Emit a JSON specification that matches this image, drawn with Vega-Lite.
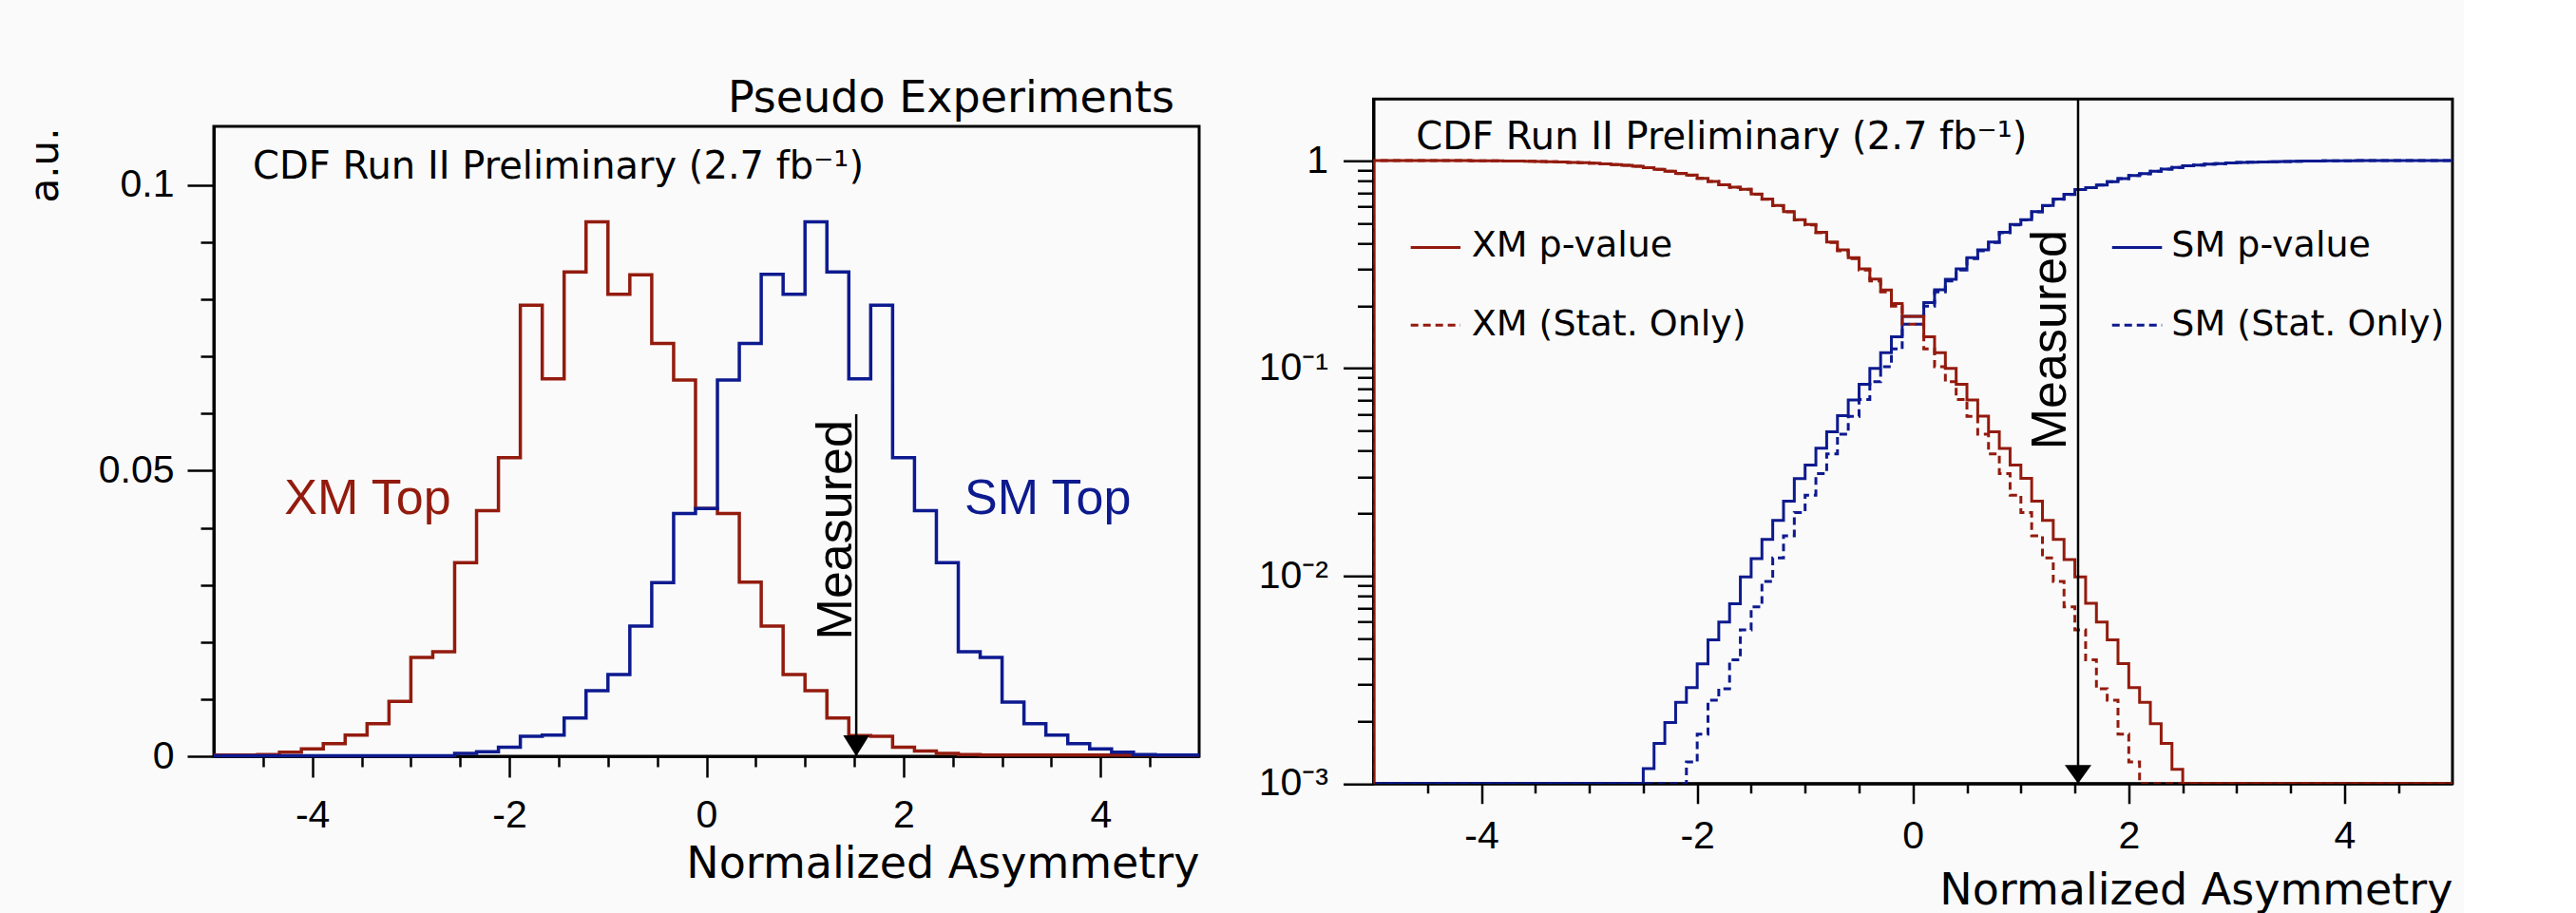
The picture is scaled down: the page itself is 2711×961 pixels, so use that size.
{
"$schema": "https://vega.github.io/schema/vega-lite/v6.json",
"background": "#fafafa",
"padding": {"left": 24, "top": 79, "right": 10, "bottom": 0},
"config": {
  "view": {"stroke": "black", "strokeWidth": 3},
  "axis": {"grid": false, "domainColor": "black", "domainWidth": 3, "tickColor": "black", "tickWidth": 2.5, "labelColor": "black", "titleColor": "black", "labelFont": "Liberation Sans", "labelFontSize": 41, "titleFont": "DejaVu Sans", "titleFontSize": 46, "titleFontWeight": "normal", "labelOverlap": false, "labelFlush": false},
  "text": {"font": "DejaVu Sans", "color": "black"},
  "title": {"font": "DejaVu Sans", "fontWeight": "normal", "color": "black"}
},
"datasets": {
"hist": [
{"x":-5,"v":0.0002,"s":"XM"},{"x":-4.7778,"v":0.0002,"s":"XM"},{"x":-4.5556,"v":0.0003,"s":"XM"},{"x":-4.3333,"v":0.0007,"s":"XM"},{"x":-4.1111,"v":0.0013,"s":"XM"},{"x":-3.8889,"v":0.0022,"s":"XM"},{"x":-3.6667,"v":0.0037,"s":"XM"},{"x":-3.4444,"v":0.0057,"s":"XM"},{"x":-3.2222,"v":0.0096,"s":"XM"},{"x":-3,"v":0.0173,"s":"XM"},{"x":-2.7778,"v":0.0183,"s":"XM"},{"x":-2.5556,"v":0.0339,"s":"XM"},{"x":-2.3333,"v":0.043,"s":"XM"},{"x":-2.1111,"v":0.0523,"s":"XM"},{"x":-1.8889,"v":0.079,"s":"XM"},{"x":-1.6667,"v":0.0661,"s":"XM"},{"x":-1.4444,"v":0.0848,"s":"XM"},{"x":-1.2222,"v":0.0936,"s":"XM"},{"x":-1,"v":0.0809,"s":"XM"},{"x":-0.7778,"v":0.0843,"s":"XM"},{"x":-0.5556,"v":0.0723,"s":"XM"},{"x":-0.3333,"v":0.0659,"s":"XM"},{"x":-0.1111,"v":0.0434,"s":"XM"},{"x":0.1111,"v":0.0425,"s":"XM"},{"x":0.3333,"v":0.0305,"s":"XM"},{"x":0.5556,"v":0.0228,"s":"XM"},{"x":0.7778,"v":0.0143,"s":"XM"},{"x":1,"v":0.0115,"s":"XM"},{"x":1.2222,"v":0.0067,"s":"XM"},{"x":1.4444,"v":0.0036,"s":"XM"},{"x":1.6667,"v":0.0035,"s":"XM"},{"x":1.8889,"v":0.0016,"s":"XM"},{"x":2.1111,"v":0.0009,"s":"XM"},{"x":2.3333,"v":0.0005,"s":"XM"},{"x":2.5556,"v":0.0003,"s":"XM"},{"x":2.7778,"v":0.0002,"s":"XM"},{"x":3,"v":0.0002,"s":"XM"},{"x":3.2222,"v":0.0002,"s":"XM"},{"x":3.4444,"v":0.0002,"s":"XM"},{"x":3.6667,"v":0.0002,"s":"XM"},{"x":3.8889,"v":0.0002,"s":"XM"},{"x":4.1111,"v":0.0002,"s":"XM"},{"x":4.3333,"v":0.0002,"s":"XM"},{"x":4.5556,"v":0.0002,"s":"XM"},{"x":4.7778,"v":0.0002,"s":"XM"},{"x":5,"v":0.0002,"s":"XM"},
{"x":-5,"v":0.0001,"s":"SM"},{"x":-4.7778,"v":0.0001,"s":"SM"},{"x":-4.5556,"v":0.0001,"s":"SM"},{"x":-4.3333,"v":0.0001,"s":"SM"},{"x":-4.1111,"v":0.0001,"s":"SM"},{"x":-3.8889,"v":0.0001,"s":"SM"},{"x":-3.6667,"v":0.0001,"s":"SM"},{"x":-3.4444,"v":0.0001,"s":"SM"},{"x":-3.2222,"v":0.0001,"s":"SM"},{"x":-3,"v":0.0001,"s":"SM"},{"x":-2.7778,"v":0.0001,"s":"SM"},{"x":-2.5556,"v":0.0005,"s":"SM"},{"x":-2.3333,"v":0.0008,"s":"SM"},{"x":-2.1111,"v":0.0016,"s":"SM"},{"x":-1.8889,"v":0.0035,"s":"SM"},{"x":-1.6667,"v":0.0037,"s":"SM"},{"x":-1.4444,"v":0.0067,"s":"SM"},{"x":-1.2222,"v":0.0115,"s":"SM"},{"x":-1,"v":0.0143,"s":"SM"},{"x":-0.7778,"v":0.0228,"s":"SM"},{"x":-0.5556,"v":0.0304,"s":"SM"},{"x":-0.3333,"v":0.0425,"s":"SM"},{"x":-0.1111,"v":0.0434,"s":"SM"},{"x":0.1111,"v":0.0659,"s":"SM"},{"x":0.3333,"v":0.0723,"s":"SM"},{"x":0.5556,"v":0.0844,"s":"SM"},{"x":0.7778,"v":0.0809,"s":"SM"},{"x":1,"v":0.0936,"s":"SM"},{"x":1.2222,"v":0.0848,"s":"SM"},{"x":1.4444,"v":0.0661,"s":"SM"},{"x":1.6667,"v":0.079,"s":"SM"},{"x":1.8889,"v":0.0523,"s":"SM"},{"x":2.1111,"v":0.043,"s":"SM"},{"x":2.3333,"v":0.0339,"s":"SM"},{"x":2.5556,"v":0.0183,"s":"SM"},{"x":2.7778,"v":0.0173,"s":"SM"},{"x":3,"v":0.0095,"s":"SM"},{"x":3.2222,"v":0.0057,"s":"SM"},{"x":3.4444,"v":0.0037,"s":"SM"},{"x":3.6667,"v":0.0022,"s":"SM"},{"x":3.8889,"v":0.0013,"s":"SM"},{"x":4.1111,"v":0.0007,"s":"SM"},{"x":4.3333,"v":0.0003,"s":"SM"},{"x":4.5556,"v":0.0002,"s":"SM"},{"x":4.7778,"v":0.0002,"s":"SM"},{"x":5,"v":0.0002,"s":"SM"}
],
"pv": [
{"x":-5,"v":0.001,"s":"SMp"},{"x":-4.9,"v":0.001,"s":"SMp"},{"x":-4.8,"v":0.001,"s":"SMp"},{"x":-4.7,"v":0.001,"s":"SMp"},{"x":-4.6,"v":0.001,"s":"SMp"},{"x":-4.5,"v":0.001,"s":"SMp"},{"x":-4.4,"v":0.001,"s":"SMp"},{"x":-4.3,"v":0.001,"s":"SMp"},{"x":-4.2,"v":0.001,"s":"SMp"},{"x":-4.1,"v":0.001,"s":"SMp"},{"x":-4,"v":0.001,"s":"SMp"},{"x":-3.9,"v":0.001,"s":"SMp"},{"x":-3.8,"v":0.001,"s":"SMp"},{"x":-3.7,"v":0.001,"s":"SMp"},{"x":-3.6,"v":0.001,"s":"SMp"},{"x":-3.5,"v":0.001,"s":"SMp"},{"x":-3.4,"v":0.001,"s":"SMp"},{"x":-3.3,"v":0.001,"s":"SMp"},{"x":-3.2,"v":0.001,"s":"SMp"},{"x":-3.1,"v":0.001,"s":"SMp"},{"x":-3,"v":0.001,"s":"SMp"},{"x":-2.9,"v":0.001,"s":"SMp"},{"x":-2.8,"v":0.001,"s":"SMp"},{"x":-2.7,"v":0.001,"s":"SMp"},{"x":-2.6,"v":0.001,"s":"SMp"},
{"x":-2.5,"v":0.00118,"s":"SMp"},{"x":-2.4,"v":0.00156,"s":"SMp"},{"x":-2.3,"v":0.00197,"s":"SMp"},{"x":-2.2,"v":0.00246,"s":"SMp"},{"x":-2.1,"v":0.0029,"s":"SMp"},{"x":-2,"v":0.00377,"s":"SMp"},{"x":-1.9,"v":0.00492,"s":"SMp"},{"x":-1.8,"v":0.006,"s":"SMp"},{"x":-1.7,"v":0.00734,"s":"SMp"},{"x":-1.6,"v":0.0099,"s":"SMp"},{"x":-1.5,"v":0.0121,"s":"SMp"},{"x":-1.4,"v":0.015,"s":"SMp"},{"x":-1.3,"v":0.0185,"s":"SMp"},{"x":-1.2,"v":0.0229,"s":"SMp"},{"x":-1.1,"v":0.0294,"s":"SMp"},{"x":-1,"v":0.0342,"s":"SMp"},{"x":-0.9,"v":0.0412,"s":"SMp"},{"x":-0.8,"v":0.0494,"s":"SMp"},{"x":-0.7,"v":0.0592,"s":"SMp"},{"x":-0.6,"v":0.0703,"s":"SMp"},{"x":-0.5,"v":0.0838,"s":"SMp"},{"x":-0.4,"v":0.0998,"s":"SMp"},{"x":-0.3,"v":0.119,"s":"SMp"},{"x":-0.2,"v":0.1417,"s":"SMp"},{"x":-0.1,"v":0.178,"s":"SMp"},
{"x":0,"v":0.178,"s":"SMp"},{"x":0.1,"v":0.207,"s":"SMp"},{"x":0.2,"v":0.239,"s":"SMp"},{"x":0.3,"v":0.268,"s":"SMp"},{"x":0.4,"v":0.301,"s":"SMp"},{"x":0.5,"v":0.341,"s":"SMp"},{"x":0.6,"v":0.372,"s":"SMp"},{"x":0.7,"v":0.406,"s":"SMp"},{"x":0.8,"v":0.452,"s":"SMp"},{"x":0.9,"v":0.493,"s":"SMp"},{"x":1,"v":0.52,"s":"SMp"},{"x":1.1,"v":0.568,"s":"SMp"},{"x":1.2,"v":0.609,"s":"SMp"},{"x":1.3,"v":0.653,"s":"SMp"},{"x":1.4,"v":0.689,"s":"SMp"},{"x":1.5,"v":0.726,"s":"SMp"},{"x":1.6,"v":0.742,"s":"SMp"},{"x":1.7,"v":0.764,"s":"SMp"},{"x":1.8,"v":0.792,"s":"SMp"},{"x":1.9,"v":0.82,"s":"SMp"},{"x":2,"v":0.849,"s":"SMp"},{"x":2.1,"v":0.865,"s":"SMp"},{"x":2.2,"v":0.889,"s":"SMp"},{"x":2.3,"v":0.911,"s":"SMp"},{"x":2.4,"v":0.927,"s":"SMp"},
{"x":2.5,"v":0.944,"s":"SMp"},{"x":2.6,"v":0.953,"s":"SMp"},{"x":2.7,"v":0.961,"s":"SMp"},{"x":2.8,"v":0.968,"s":"SMp"},{"x":2.9,"v":0.975,"s":"SMp"},{"x":3,"v":0.979,"s":"SMp"},{"x":3.1,"v":0.983,"s":"SMp"},{"x":3.2,"v":0.986,"s":"SMp"},{"x":3.3,"v":0.989,"s":"SMp"},{"x":3.4,"v":0.991,"s":"SMp"},{"x":3.5,"v":0.993,"s":"SMp"},{"x":3.6,"v":0.995,"s":"SMp"},{"x":3.7,"v":0.996,"s":"SMp"},{"x":3.8,"v":0.997,"s":"SMp"},{"x":3.9,"v":0.998,"s":"SMp"},{"x":4,"v":0.999,"s":"SMp"},{"x":4.1,"v":1,"s":"SMp"},{"x":4.2,"v":1,"s":"SMp"},{"x":4.3,"v":1,"s":"SMp"},{"x":4.4,"v":1,"s":"SMp"},{"x":4.5,"v":1,"s":"SMp"},{"x":4.6,"v":1,"s":"SMp"},{"x":4.7,"v":1,"s":"SMp"},{"x":4.8,"v":1,"s":"SMp"},{"x":4.9,"v":1,"s":"SMp"},{"x":5,"v":1,"s":"SMp"},

{"x":-5,"v":0.001,"s":"SMs"},{"x":-4.9,"v":0.001,"s":"SMs"},{"x":-4.8,"v":0.001,"s":"SMs"},{"x":-4.7,"v":0.001,"s":"SMs"},{"x":-4.6,"v":0.001,"s":"SMs"},{"x":-4.5,"v":0.001,"s":"SMs"},{"x":-4.4,"v":0.001,"s":"SMs"},{"x":-4.3,"v":0.001,"s":"SMs"},{"x":-4.2,"v":0.001,"s":"SMs"},{"x":-4.1,"v":0.001,"s":"SMs"},{"x":-4,"v":0.001,"s":"SMs"},{"x":-3.9,"v":0.001,"s":"SMs"},{"x":-3.8,"v":0.001,"s":"SMs"},{"x":-3.7,"v":0.001,"s":"SMs"},{"x":-3.6,"v":0.001,"s":"SMs"},{"x":-3.5,"v":0.001,"s":"SMs"},{"x":-3.4,"v":0.001,"s":"SMs"},{"x":-3.3,"v":0.001,"s":"SMs"},{"x":-3.2,"v":0.001,"s":"SMs"},{"x":-3.1,"v":0.001,"s":"SMs"},{"x":-3,"v":0.001,"s":"SMs"},{"x":-2.9,"v":0.001,"s":"SMs"},{"x":-2.8,"v":0.001,"s":"SMs"},{"x":-2.7,"v":0.001,"s":"SMs"},{"x":-2.6,"v":0.001,"s":"SMs"},{"x":-2.5,"v":0.001,"s":"SMs"},{"x":-2.4,"v":0.001,"s":"SMs"},{"x":-2.3,"v":0.001,"s":"SMs"},{"x":-2.2,"v":0.001,"s":"SMs"},
{"x":-2.1,"v":0.00127,"s":"SMs"},{"x":-2,"v":0.00173,"s":"SMs"},{"x":-1.9,"v":0.00252,"s":"SMs"},{"x":-1.8,"v":0.00286,"s":"SMs"},{"x":-1.7,"v":0.00394,"s":"SMs"},{"x":-1.6,"v":0.0055,"s":"SMs"},{"x":-1.5,"v":0.0071,"s":"SMs"},{"x":-1.4,"v":0.0094,"s":"SMs"},{"x":-1.3,"v":0.0122,"s":"SMs"},{"x":-1.2,"v":0.0156,"s":"SMs"},{"x":-1.1,"v":0.0202,"s":"SMs"},{"x":-1,"v":0.0245,"s":"SMs"},{"x":-0.9,"v":0.0311,"s":"SMs"},{"x":-0.8,"v":0.0387,"s":"SMs"},{"x":-0.7,"v":0.0481,"s":"SMs"},{"x":-0.6,"v":0.0587,"s":"SMs"},{"x":-0.5,"v":0.0708,"s":"SMs"},{"x":-0.4,"v":0.0861,"s":"SMs"},{"x":-0.3,"v":0.1017,"s":"SMs"},{"x":-0.2,"v":0.124,"s":"SMs"},{"x":-0.1,"v":0.163,"s":"SMs"},
{"x":0,"v":0.163,"s":"SMs"},{"x":0.1,"v":0.199,"s":"SMs"},{"x":0.2,"v":0.233,"s":"SMs"},{"x":0.3,"v":0.263,"s":"SMs"},{"x":0.4,"v":0.297,"s":"SMs"},{"x":0.5,"v":0.337,"s":"SMs"},{"x":0.6,"v":0.368,"s":"SMs"},{"x":0.7,"v":0.403,"s":"SMs"},{"x":0.8,"v":0.449,"s":"SMs"},{"x":0.9,"v":0.49,"s":"SMs"},{"x":1,"v":0.518,"s":"SMs"},{"x":1.1,"v":0.566,"s":"SMs"},{"x":1.2,"v":0.607,"s":"SMs"},{"x":1.3,"v":0.651,"s":"SMs"},{"x":1.4,"v":0.687,"s":"SMs"},{"x":1.5,"v":0.725,"s":"SMs"},{"x":1.6,"v":0.741,"s":"SMs"},{"x":1.7,"v":0.763,"s":"SMs"},{"x":1.8,"v":0.791,"s":"SMs"},{"x":1.9,"v":0.819,"s":"SMs"},{"x":2,"v":0.848,"s":"SMs"},{"x":2.1,"v":0.864,"s":"SMs"},{"x":2.2,"v":0.888,"s":"SMs"},{"x":2.3,"v":0.91,"s":"SMs"},{"x":2.4,"v":0.927,"s":"SMs"},{"x":2.5,"v":0.944,"s":"SMs"},
{"x":2.6,"v":0.953,"s":"SMs"},{"x":2.7,"v":0.961,"s":"SMs"},{"x":2.8,"v":0.968,"s":"SMs"},{"x":2.9,"v":0.975,"s":"SMs"},{"x":3,"v":0.979,"s":"SMs"},{"x":3.1,"v":0.983,"s":"SMs"},{"x":3.2,"v":0.986,"s":"SMs"},{"x":3.3,"v":0.989,"s":"SMs"},{"x":3.4,"v":0.991,"s":"SMs"},{"x":3.5,"v":0.993,"s":"SMs"},{"x":3.6,"v":0.995,"s":"SMs"},{"x":3.7,"v":0.996,"s":"SMs"},{"x":3.8,"v":0.997,"s":"SMs"},{"x":3.9,"v":0.998,"s":"SMs"},{"x":4,"v":0.999,"s":"SMs"},{"x":4.1,"v":1,"s":"SMs"},{"x":4.2,"v":1,"s":"SMs"},{"x":4.3,"v":1,"s":"SMs"},{"x":4.4,"v":1,"s":"SMs"},{"x":4.5,"v":1,"s":"SMs"},{"x":4.6,"v":1,"s":"SMs"},{"x":4.7,"v":1,"s":"SMs"},{"x":4.8,"v":1,"s":"SMs"},{"x":4.9,"v":1,"s":"SMs"},{"x":5,"v":1,"s":"SMs"},

{"x":-5,"v":0.001,"s":"XMp"},{"x":-5,"v":1,"s":"XMp"},{"x":-4.9,"v":1,"s":"XMp"},{"x":-4.8,"v":1,"s":"XMp"},{"x":-4.7,"v":1,"s":"XMp"},{"x":-4.6,"v":1,"s":"XMp"},{"x":-4.5,"v":1,"s":"XMp"},{"x":-4.4,"v":1,"s":"XMp"},{"x":-4.3,"v":1,"s":"XMp"},{"x":-4.2,"v":1,"s":"XMp"},{"x":-4.1,"v":0.999,"s":"XMp"},{"x":-4,"v":0.998,"s":"XMp"},{"x":-3.9,"v":0.997,"s":"XMp"},{"x":-3.8,"v":0.996,"s":"XMp"},{"x":-3.7,"v":0.995,"s":"XMp"},{"x":-3.6,"v":0.993,"s":"XMp"},{"x":-3.5,"v":0.991,"s":"XMp"},{"x":-3.4,"v":0.989,"s":"XMp"},{"x":-3.3,"v":0.985,"s":"XMp"},{"x":-3.2,"v":0.981,"s":"XMp"},{"x":-3.1,"v":0.977,"s":"XMp"},{"x":-3,"v":0.972,"s":"XMp"},{"x":-2.9,"v":0.965,"s":"XMp"},{"x":-2.8,"v":0.958,"s":"XMp"},{"x":-2.7,"v":0.949,"s":"XMp"},{"x":-2.6,"v":0.94,"s":"XMp"},{"x":-2.5,"v":0.925,"s":"XMp"},{"x":-2.4,"v":0.909,"s":"XMp"},{"x":-2.3,"v":0.889,"s":"XMp"},{"x":-2.2,"v":0.868,"s":"XMp"},{"x":-2.1,"v":0.852,"s":"XMp"},{"x":-2,"v":0.822,"s":"XMp"},{"x":-1.9,"v":0.794,"s":"XMp"},{"x":-1.8,"v":0.766,"s":"XMp"},{"x":-1.7,"v":0.745,"s":"XMp"},{"x":-1.6,"v":0.728,"s":"XMp"},{"x":-1.5,"v":0.69,"s":"XMp"},{"x":-1.4,"v":0.653,"s":"XMp"},{"x":-1.3,"v":0.609,"s":"XMp"},{"x":-1.2,"v":0.568,"s":"XMp"},{"x":-1.1,"v":0.52,"s":"XMp"},{"x":-1,"v":0.493,"s":"XMp"},{"x":-0.9,"v":0.452,"s":"XMp"},{"x":-0.8,"v":0.406,"s":"XMp"},{"x":-0.7,"v":0.372,"s":"XMp"},{"x":-0.6,"v":0.341,"s":"XMp"},{"x":-0.5,"v":0.301,"s":"XMp"},{"x":-0.4,"v":0.269,"s":"XMp"},{"x":-0.3,"v":0.238,"s":"XMp"},{"x":-0.2,"v":0.205,"s":"XMp"},{"x":-0.1,"v":0.178,"s":"XMp"},
{"x":0,"v":0.178,"s":"XMp"},{"x":0.1,"v":0.1417,"s":"XMp"},{"x":0.2,"v":0.119,"s":"XMp"},{"x":0.3,"v":0.0998,"s":"XMp"},{"x":0.4,"v":0.0838,"s":"XMp"},{"x":0.5,"v":0.0703,"s":"XMp"},{"x":0.6,"v":0.0589,"s":"XMp"},{"x":0.7,"v":0.0494,"s":"XMp"},{"x":0.8,"v":0.0411,"s":"XMp"},{"x":0.9,"v":0.0342,"s":"XMp"},{"x":1,"v":0.0295,"s":"XMp"},{"x":1.1,"v":0.0229,"s":"XMp"},{"x":1.2,"v":0.0185,"s":"XMp"},{"x":1.3,"v":0.015,"s":"XMp"},{"x":1.4,"v":0.012,"s":"XMp"},{"x":1.5,"v":0.0099,"s":"XMp"},{"x":1.6,"v":0.00738,"s":"XMp"},{"x":1.7,"v":0.006,"s":"XMp"},{"x":1.8,"v":0.00492,"s":"XMp"},{"x":1.9,"v":0.00378,"s":"XMp"},{"x":2,"v":0.0029,"s":"XMp"},{"x":2.1,"v":0.00246,"s":"XMp"},{"x":2.2,"v":0.00194,"s":"XMp"},{"x":2.3,"v":0.00156,"s":"XMp"},{"x":2.4,"v":0.00117,"s":"XMp"},
{"x":2.5,"v":0.001,"s":"XMp"},{"x":2.6,"v":0.001,"s":"XMp"},{"x":2.7,"v":0.001,"s":"XMp"},{"x":2.8,"v":0.001,"s":"XMp"},{"x":2.9,"v":0.001,"s":"XMp"},{"x":3,"v":0.001,"s":"XMp"},{"x":3.1,"v":0.001,"s":"XMp"},{"x":3.2,"v":0.001,"s":"XMp"},{"x":3.3,"v":0.001,"s":"XMp"},{"x":3.4,"v":0.001,"s":"XMp"},{"x":3.5,"v":0.001,"s":"XMp"},{"x":3.6,"v":0.001,"s":"XMp"},{"x":3.7,"v":0.001,"s":"XMp"},{"x":3.8,"v":0.001,"s":"XMp"},{"x":3.9,"v":0.001,"s":"XMp"},{"x":4,"v":0.001,"s":"XMp"},{"x":4.1,"v":0.001,"s":"XMp"},{"x":4.2,"v":0.001,"s":"XMp"},{"x":4.3,"v":0.001,"s":"XMp"},{"x":4.4,"v":0.001,"s":"XMp"},{"x":4.5,"v":0.001,"s":"XMp"},{"x":4.6,"v":0.001,"s":"XMp"},{"x":4.7,"v":0.001,"s":"XMp"},{"x":4.8,"v":0.001,"s":"XMp"},{"x":4.9,"v":0.001,"s":"XMp"},{"x":5,"v":0.001,"s":"XMp"},

{"x":-5,"v":0.001,"s":"XMs"},{"x":-5,"v":1,"s":"XMs"},{"x":-4.9,"v":1,"s":"XMs"},{"x":-4.8,"v":1,"s":"XMs"},{"x":-4.7,"v":1,"s":"XMs"},{"x":-4.6,"v":1,"s":"XMs"},{"x":-4.5,"v":1,"s":"XMs"},{"x":-4.4,"v":1,"s":"XMs"},{"x":-4.3,"v":1,"s":"XMs"},{"x":-4.2,"v":1,"s":"XMs"},{"x":-4.1,"v":0.999,"s":"XMs"},{"x":-4,"v":0.998,"s":"XMs"},{"x":-3.9,"v":0.997,"s":"XMs"},{"x":-3.8,"v":0.996,"s":"XMs"},{"x":-3.7,"v":0.995,"s":"XMs"},{"x":-3.6,"v":0.993,"s":"XMs"},{"x":-3.5,"v":0.991,"s":"XMs"},{"x":-3.4,"v":0.989,"s":"XMs"},{"x":-3.3,"v":0.985,"s":"XMs"},{"x":-3.2,"v":0.981,"s":"XMs"},{"x":-3.1,"v":0.977,"s":"XMs"},{"x":-3,"v":0.972,"s":"XMs"},{"x":-2.9,"v":0.965,"s":"XMs"},{"x":-2.8,"v":0.958,"s":"XMs"},{"x":-2.7,"v":0.949,"s":"XMs"},{"x":-2.6,"v":0.94,"s":"XMs"},{"x":-2.5,"v":0.925,"s":"XMs"},{"x":-2.4,"v":0.908,"s":"XMs"},{"x":-2.3,"v":0.888,"s":"XMs"},{"x":-2.2,"v":0.867,"s":"XMs"},{"x":-2.1,"v":0.851,"s":"XMs"},{"x":-2,"v":0.821,"s":"XMs"},{"x":-1.9,"v":0.793,"s":"XMs"},{"x":-1.8,"v":0.765,"s":"XMs"},{"x":-1.7,"v":0.744,"s":"XMs"},{"x":-1.6,"v":0.727,"s":"XMs"},{"x":-1.5,"v":0.688,"s":"XMs"},{"x":-1.4,"v":0.651,"s":"XMs"},{"x":-1.3,"v":0.607,"s":"XMs"},{"x":-1.2,"v":0.566,"s":"XMs"},{"x":-1.1,"v":0.518,"s":"XMs"},{"x":-1,"v":0.49,"s":"XMs"},{"x":-0.9,"v":0.449,"s":"XMs"},{"x":-0.8,"v":0.403,"s":"XMs"},{"x":-0.7,"v":0.368,"s":"XMs"},{"x":-0.6,"v":0.337,"s":"XMs"},{"x":-0.5,"v":0.297,"s":"XMs"},{"x":-0.4,"v":0.263,"s":"XMs"},{"x":-0.3,"v":0.233,"s":"XMs"},{"x":-0.2,"v":0.199,"s":"XMs"},{"x":-0.1,"v":0.163,"s":"XMs"},
{"x":0,"v":0.163,"s":"XMs"},{"x":0.1,"v":0.124,"s":"XMs"},{"x":0.2,"v":0.1017,"s":"XMs"},{"x":0.3,"v":0.0861,"s":"XMs"},{"x":0.4,"v":0.0708,"s":"XMs"},{"x":0.5,"v":0.0587,"s":"XMs"},{"x":0.6,"v":0.0481,"s":"XMs"},{"x":0.7,"v":0.0387,"s":"XMs"},{"x":0.8,"v":0.0311,"s":"XMs"},{"x":0.9,"v":0.0245,"s":"XMs"},{"x":1,"v":0.0202,"s":"XMs"},{"x":1.1,"v":0.0156,"s":"XMs"},{"x":1.2,"v":0.0122,"s":"XMs"},{"x":1.3,"v":0.0094,"s":"XMs"},{"x":1.4,"v":0.0071,"s":"XMs"},{"x":1.5,"v":0.0055,"s":"XMs"},{"x":1.6,"v":0.00394,"s":"XMs"},{"x":1.7,"v":0.00286,"s":"XMs"},{"x":1.8,"v":0.00252,"s":"XMs"},{"x":1.9,"v":0.00173,"s":"XMs"},{"x":2,"v":0.00127,"s":"XMs"},
{"x":2.1,"v":0.001,"s":"XMs"},{"x":2.2,"v":0.001,"s":"XMs"},{"x":2.3,"v":0.001,"s":"XMs"},{"x":2.4,"v":0.001,"s":"XMs"},{"x":2.5,"v":0.001,"s":"XMs"},{"x":2.6,"v":0.001,"s":"XMs"},{"x":2.7,"v":0.001,"s":"XMs"},{"x":2.8,"v":0.001,"s":"XMs"},{"x":2.9,"v":0.001,"s":"XMs"},{"x":3,"v":0.001,"s":"XMs"},{"x":3.1,"v":0.001,"s":"XMs"},{"x":3.2,"v":0.001,"s":"XMs"},{"x":3.3,"v":0.001,"s":"XMs"},{"x":3.4,"v":0.001,"s":"XMs"},{"x":3.5,"v":0.001,"s":"XMs"},{"x":3.6,"v":0.001,"s":"XMs"},{"x":3.7,"v":0.001,"s":"XMs"},{"x":3.8,"v":0.001,"s":"XMs"},{"x":3.9,"v":0.001,"s":"XMs"},{"x":4,"v":0.001,"s":"XMs"},{"x":4.1,"v":0.001,"s":"XMs"},{"x":4.2,"v":0.001,"s":"XMs"},{"x":4.3,"v":0.001,"s":"XMs"},{"x":4.4,"v":0.001,"s":"XMs"},{"x":4.5,"v":0.001,"s":"XMs"},{"x":4.6,"v":0.001,"s":"XMs"},{"x":4.7,"v":0.001,"s":"XMs"},{"x":4.8,"v":0.001,"s":"XMs"},{"x":4.9,"v":0.001,"s":"XMs"},{"x":5,"v":0.001,"s":"XMs"}
]
},
"spacing": 183.5,
"bounds": "flush",
"center": true,
"resolve": {"scale": {"color": "independent", "strokeDash": "independent"}},
"hconcat": [
{
  "width": 1037, "height": 663,
  "title": {"text": "Pseudo Experiments", "anchor": "end", "fontSize": 46, "dx": -33, "offset": -31, "baseline": "alphabetic"},
  "layer": [
    {
      "data": {"name": "hist"},
      "mark": {"type": "line", "interpolate": "step-after", "strokeWidth": 3.5},
      "encoding": {
        "x": {"field": "x", "type": "quantitative", "scale": {"domain": [-5, 5], "nice": false, "zero": false},
              "axis": {"orient": "bottom", "values": [-4, -2, 0, 2, 4], "tickSize": 22, "labelPadding": 20,
                       "labelExpr": "datum.value < 0 ? '-' + (-datum.value) : '' + datum.value",
                       "title": "Normalized Asymmetry", "titleAlign": "right", "titleAnchor": "end", "titleBaseline": "alphabetic", "titleX": 1037, "titleY": 127}},
        "y": {"field": "v", "type": "quantitative", "scale": {"domain": [0, 0.1103], "nice": false},
              "axis": {"orient": "left", "values": [0, 0.05, 0.1], "tickSize": 28, "labelPadding": 14,
                       "labelExpr": "datum.value == 0 ? '0' : datum.value < 0.07 ? '0.05' : '0.1'",
                       "title": "a.u.", "titleFontSize": 42, "titleAngle": 270, "titleAlign": "right", "titleBaseline": "alphabetic", "titleX": -165, "titleY": 1}},
        "color": {"field": "s", "type": "nominal", "scale": {"domain": ["XM", "SM"], "range": ["#931b0e", "#0d1a8f"]}, "legend": null}
      }
    },
    {
      "data": {"values": [{"x": 1.52, "y": 0.0599, "y2": 0}]},
      "mark": {"type": "rule", "strokeWidth": 2.5, "color": "black"},
      "encoding": {
        "x": {"field": "x", "type": "quantitative",
              "axis": {"orient": "bottom", "values": [-4.5, -3.5, -3, -2.5, -1.5, -1, -0.5, 0.5, 1, 1.5, 2.5, 3, 3.5, 4.5], "tickSize": 11, "labels": false, "domain": false, "title": null}},
        "y": {"field": "y", "type": "quantitative",
              "axis": {"orient": "left", "values": [0.01, 0.02, 0.03, 0.04, 0.06, 0.07, 0.08, 0.09], "tickSize": 14, "labels": false, "domain": false, "title": null}},
        "y2": {"field": "y2"}
      }
    },
    {
      "data": {"values": [{"x": 1.52, "y": 0}]},
      "mark": {"type": "point", "shape": "M-1,-1.6L1,-1.6L0,0Z", "size": 756, "filled": true, "color": "black", "opacity": 1},
      "encoding": {
        "x": {"field": "x", "type": "quantitative", "axis": null},
        "y": {"field": "y", "type": "quantitative", "axis": null}
      }
    },
    {
      "data": {"values": [{"x": -4.604, "y": 0.1012, "t": "CDF Run II Preliminary (2.7 fb⁻¹)"}]},
      "mark": {"type": "text", "align": "left", "baseline": "alphabetic", "fontSize": 40},
      "encoding": {
        "x": {"field": "x", "type": "quantitative", "axis": null},
        "y": {"field": "y", "type": "quantitative", "axis": null},
        "text": {"field": "t"}
      }
    },
    {
      "data": {"values": [{"x": -4.284, "y": 0.0425, "t": "XM Top", "s": "XM"}, {"x": 2.619, "y": 0.0425, "t": "SM Top", "s": "SM"}]},
      "mark": {"type": "text", "align": "left", "baseline": "alphabetic", "fontSize": 52, "font": "Liberation Sans"},
      "encoding": {
        "x": {"field": "x", "type": "quantitative", "axis": null},
        "y": {"field": "y", "type": "quantitative", "axis": null},
        "text": {"field": "t"},
        "color": {"field": "s", "type": "nominal", "legend": null}
      }
    },
    {
      "data": {"values": [{"x": 1.52, "y": 0.0204, "t": "Measured"}]},
      "mark": {"type": "text", "align": "left", "baseline": "alphabetic", "angle": 270, "dy": -5, "fontSize": 52, "font": "Liberation Sans"},
      "encoding": {
        "x": {"field": "x", "type": "quantitative", "axis": null},
        "y": {"field": "y", "type": "quantitative", "axis": null},
        "text": {"field": "t"}
      }
    }
  ],
  "resolve": {"axis": {"x": "independent", "y": "independent"}}
},
{
  "width": 1135.5, "height": 720.5,
  "layer": [
    {
      "data": {"name": "pv"},
      "mark": {"type": "line", "interpolate": "step-after", "strokeWidth": 3, "clip": true},
      "encoding": {
        "x": {"field": "x", "type": "quantitative", "scale": {"domain": [-5, 5], "nice": false, "zero": false},
              "axis": {"orient": "bottom", "values": [-4, -2, 0, 2, 4], "tickSize": 21, "labelPadding": 15,
                       "labelExpr": "datum.value < 0 ? '-' + (-datum.value) : '' + datum.value",
                       "title": "Normalized Asymmetry", "titleAlign": "right", "titleAnchor": "end", "titleBaseline": "alphabetic", "titleX": 1135.5, "titleY": 127}},
        "y": {"field": "v", "type": "quantitative", "scale": {"type": "log", "domain": [0.001, 1.98], "nice": false},
              "axis": {"orient": "left", "values": [0.001, 0.01, 0.1, 1], "tickSize": 32, "labelPadding": 16,
                       "labelExpr": "datum.value > 0.5 ? '1' : datum.value > 0.05 ? '10⁻¹' : datum.value > 0.005 ? '10⁻²' : '10⁻³'",
                       "title": null}},
        "color": {"field": "s", "type": "nominal", "scale": {"domain": ["XMp", "XMs", "SMp", "SMs"], "range": ["#931b0e", "#931b0e", "#0d1a8f", "#0d1a8f"]}, "legend": null},
        "strokeDash": {"field": "s", "type": "nominal", "scale": {"domain": ["XMp", "XMs", "SMp", "SMs"], "range": [[1, 0], [8, 5], [1, 0], [8, 5]]}, "legend": null}
      }
    },
    {
      "data": {"values": [{"x": 1.53, "y": 0.001, "y2": 1.98}]},
      "mark": {"type": "rule", "strokeWidth": 2.5, "color": "black"},
      "encoding": {
        "x": {"field": "x", "type": "quantitative",
              "axis": {"orient": "bottom", "values": [-4.5, -3.5, -3, -2.5, -1.5, -1, -0.5, 0.5, 1, 1.5, 2.5, 3, 3.5, 4.5], "tickSize": 10, "labels": false, "domain": false, "title": null}},
        "y": {"field": "y", "type": "quantitative",
              "axis": {"orient": "left", "values": [0.002, 0.003, 0.004, 0.005, 0.006, 0.007, 0.008, 0.009, 0.02, 0.03, 0.04, 0.05, 0.06, 0.07, 0.08, 0.09, 0.2, 0.3, 0.4, 0.5, 0.6, 0.7, 0.8, 0.9], "tickSize": 17, "labels": false, "domain": false, "title": null}},
        "y2": {"field": "y2"}
      }
    },
    {
      "data": {"values": [{"x": 1.53, "y": 0.001}]},
      "mark": {"type": "point", "shape": "M-1,-1.4L1,-1.4L0,0Z", "size": 784, "filled": true, "color": "black", "opacity": 1},
      "encoding": {
        "x": {"field": "x", "type": "quantitative", "axis": null},
        "y": {"field": "y", "type": "quantitative", "axis": null}
      }
    },
    {
      "data": {"values": [
        {"x": -4.655, "x2": -4.194, "y": 0.3815, "s": "XMp"},
        {"x": -4.655, "x2": -4.194, "y": 0.1614, "s": "XMs"},
        {"x": 1.845, "x2": 2.308, "y": 0.3815, "s": "SMp"},
        {"x": 1.845, "x2": 2.308, "y": 0.1614, "s": "SMs"}
      ]},
      "mark": {"type": "rule", "strokeWidth": 3},
      "encoding": {
        "x": {"field": "x", "type": "quantitative", "axis": null},
        "x2": {"field": "x2"},
        "y": {"field": "y", "type": "quantitative", "axis": null},
        "color": {"field": "s", "type": "nominal", "legend": null},
        "strokeDash": {"field": "s", "type": "nominal", "legend": null}
      }
    },
    {
      "data": {"values": [
        {"x": -4.091, "y": 0.347, "t": "XM p-value"},
        {"x": -4.091, "y": 0.1443, "t": "XM (Stat. Only)"},
        {"x": 2.396, "y": 0.347, "t": "SM p-value"},
        {"x": 2.396, "y": 0.1443, "t": "SM (Stat. Only)"}
      ]},
      "mark": {"type": "text", "align": "left", "baseline": "alphabetic", "fontSize": 38},
      "encoding": {
        "x": {"field": "x", "type": "quantitative", "axis": null},
        "y": {"field": "y", "type": "quantitative", "axis": null},
        "text": {"field": "t"}
      }
    },
    {
      "data": {"values": [{"x": -4.605, "y": 1.137, "t": "CDF Run II Preliminary (2.7 fb⁻¹)"}]},
      "mark": {"type": "text", "align": "left", "baseline": "alphabetic", "fontSize": 40},
      "encoding": {
        "x": {"field": "x", "type": "quantitative", "axis": null},
        "y": {"field": "y", "type": "quantitative", "axis": null},
        "text": {"field": "t"}
      }
    },
    {
      "data": {"values": [{"x": 1.53, "y": 0.0406, "t": "Measured"}]},
      "mark": {"type": "text", "align": "left", "baseline": "alphabetic", "angle": 270, "dy": -13, "fontSize": 52, "font": "Liberation Sans"},
      "encoding": {
        "x": {"field": "x", "type": "quantitative", "axis": null},
        "y": {"field": "y", "type": "quantitative", "axis": null},
        "text": {"field": "t"}
      }
    }
  ],
  "resolve": {"axis": {"x": "independent", "y": "independent"}}
}
]
}
